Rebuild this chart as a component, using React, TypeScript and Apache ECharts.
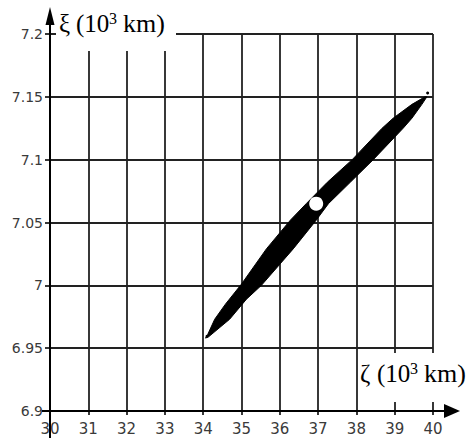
import React, { useEffect, useRef } from "react";
import * as echarts from "echarts";

// Axis ranges and ticks
const xRange: [number, number] = [30, 40];
const xStep = 1;
const yRange: [number, number] = [6.9, 7.2];
const yStep = 0.05;

// Axis titles (pieces: symbol, "(10", superscript, "km)")
const yTitleSymbol = "ξ";
const xTitleSymbol = "ζ";
const titleOpen = "(10";
const titleSup = "3";
const titleTail = "km)";

// Outline of the dense scatter cloud
// upper/left edge, from the upper-right tip down to the lower-left tip
const bandUpperEdge: [number, number][] = [
  [39.79, 7.150],
  [39.45, 7.144],
  [38.96, 7.133],
  [38.67, 7.125],
  [37.89, 7.100],
  [37.24, 7.082],
  [36.69, 7.065],
  [36.28, 7.052],
  [35.65, 7.029],
  [35.00, 7.001],
  [34.58, 6.985],
  [34.30, 6.973],
  [34.12, 6.961],
  [34.06, 6.958],
];
// lower/right edge, from the lower-left tip up to the upper-right tip
const bandLowerEdge: [number, number][] = [
  [34.14, 6.959],
  [34.69, 6.973],
  [35.13, 6.989],
  [35.52, 7.000],
  [36.35, 7.029],
  [36.93, 7.051],
  [37.27, 7.065],
  [37.84, 7.082],
  [38.44, 7.100],
  [39.22, 7.125],
  [39.45, 7.133],
  [39.71, 7.144],
  [39.84, 7.150],
];
// isolated points at the tips of the cloud
const strayPoints: [number, number][] = [
  [39.86, 7.153],
  [34.10, 6.9595],
];
// nominal point (white marker)
const nominalPoint: [number, number][] = [[36.95, 7.065]];

const App: React.FC = () => {
  const ref = useRef<HTMLDivElement>(null);

  useEffect(() => {
    document.body.style.margin = "0";
    if (!ref.current) return;
    const chart = echarts.init(ref.current, null, { renderer: "svg" });
    const outline = [...bandUpperEdge, ...bandLowerEdge];
    const gridColor = "#222";
    const labelStyle = {
      color: "#3a3a3a",
      fontFamily: "DejaVu Sans",
    };
    const serif = '"Liberation Serif", "Times New Roman", serif';

    const titlePieces = (dx: number, dy: number, symbol: string) => [
      {
        type: "text",
        z: 70,
        x: 59 + dx,
        y: 23 + dy,
        style: { text: symbol, font: `25px ${serif}`, fill: "#000", align: "left", verticalAlign: "middle" },
      },
      {
        type: "text",
        z: 70,
        x: 76 + dx,
        y: 23 + dy,
        style: { text: titleOpen, font: `25px ${serif}`, fill: "#000", align: "left", verticalAlign: "middle" },
      },
      {
        type: "text",
        z: 70,
        x: 109 + dx,
        y: 18 + dy,
        style: { text: titleSup, font: `16px ${serif}`, fill: "#000", align: "left", verticalAlign: "middle" },
      },
      {
        type: "text",
        z: 70,
        x: 123 + dx,
        y: 23 + dy,
        style: { text: titleTail, font: `26px ${serif}`, fill: "#000", align: "left", verticalAlign: "middle" },
      },
    ];

    chart.setOption({
      animation: false,
      backgroundColor: "#fff",
      grid: { left: 50, right: 43, top: 34, bottom: 30, containLabel: false },
      xAxis: {
        type: "value",
        min: xRange[0],
        max: xRange[1],
        interval: xStep,
        axisLine: { show: false },
        axisTick: { show: true, length: 4, lineStyle: { color: gridColor, width: 1.8 } },
        axisLabel: { ...labelStyle, fontSize: 15, margin: 10 },
        splitLine: { show: true, lineStyle: { color: gridColor, width: 1.8 } },
      },
      yAxis: {
        type: "value",
        min: yRange[0],
        max: yRange[1],
        interval: yStep,
        axisLine: { show: false },
        axisTick: { show: true, length: 5, lineStyle: { color: gridColor, width: 1.8 } },
        axisLabel: { ...labelStyle, fontSize: 14, margin: 7 },
        splitLine: { show: true, lineStyle: { color: gridColor, width: 1.8 } },
      },
      series: [
        {
          type: "custom",
          z: 3,
          data: [outline[0]],
          renderItem: (params: any, api: any) => {
            const pts = outline.map((p) => api.coord(p));
            return {
              type: "polygon",
              shape: { points: pts },
              style: { fill: "#000", stroke: "#000", lineWidth: 1 },
            };
          },
        },
        {
          type: "scatter",
          z: 4,
          data: strayPoints,
          symbol: "circle",
          symbolSize: 3,
          itemStyle: { color: "#000", opacity: 1 },
        },
        {
          type: "scatter",
          z: 5,
          data: nominalPoint,
          symbol: "circle",
          symbolSize: 14,
          itemStyle: { color: "#fff", opacity: 1, borderWidth: 0 },
        },
      ],
      graphic: [
        {
          type: "rect",
          z: 50,
          shape: { x: 56, y: 0, width: 120, height: 51 },
          style: { fill: "#fff" },
        },
        {
          type: "rect",
          z: 50,
          shape: { x: 358, y: 353, width: 114, height: 49 },
          style: { fill: "#fff" },
        },
        {
          type: "line",
          z: 60,
          shape: { x1: 50, y1: 438, x2: 50, y2: 24 },
          style: { stroke: "#000", lineWidth: 2 },
        },
        {
          type: "polygon",
          z: 60,
          shape: { points: [[45.5, 25], [54.5, 25], [50, 7]] },
          style: { fill: "#000" },
        },
        {
          type: "line",
          z: 60,
          shape: { x1: 42, y1: 411, x2: 446, y2: 411 },
          style: { stroke: "#000", lineWidth: 2 },
        },
        {
          type: "polygon",
          z: 60,
          shape: { points: [[444, 404], [444, 418], [460, 411]] },
          style: { fill: "#000" },
        },
        ...titlePieces(0, 0, yTitleSymbol),
        ...titlePieces(301, 350, xTitleSymbol),
      ],
    });

    return () => chart.dispose();
  }, []);

  return (
    <div
      ref={ref}
      style={{ position: "fixed", left: 0, top: 0, width: 476, height: 441, background: "#fff" }}
    />
  );
};

export default App;
